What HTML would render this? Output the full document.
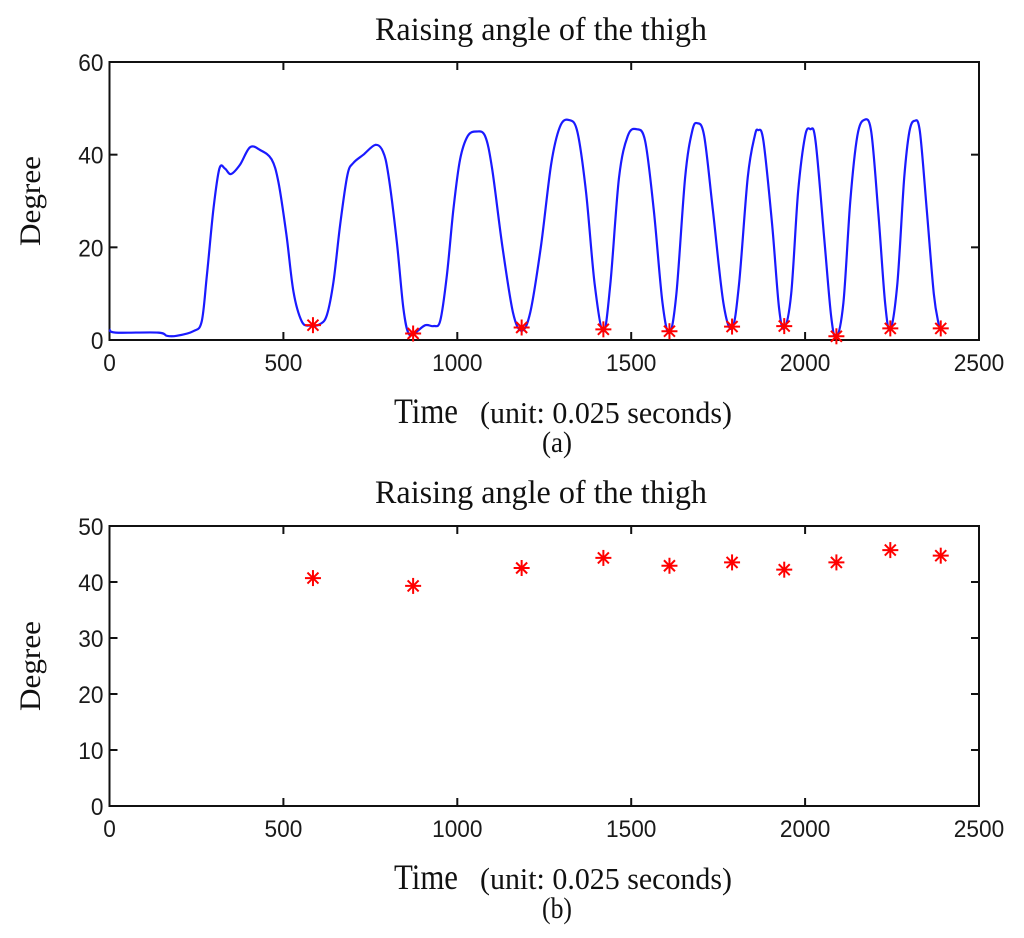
<!DOCTYPE html>
<html><head><meta charset="utf-8"><style>
html,body{margin:0;padding:0;background:#fff;}
svg{display:block;}
.tick{font-family:"Liberation Sans",Arial,sans-serif;font-size:24px;fill:#1a1a1a;}
.serif{font-family:"Liberation Serif",serif;fill:#111;}
</style></head><body>
<svg id="c" width="1024" height="938" viewBox="0 0 1024 938" xmlns="http://www.w3.org/2000/svg"></svg>
<script>
// Panel (a) curve data
const curveT = [0,18,140,165,193,241,265,280,299,316,332,349,375,404,433,466,486,509,529,553,577,605,625,644,663,684,701,730,764,786,802,826,845,860,879,908,932,951,970,989,1008,1030,1055,1080,1100,1130,1160,1185,1210,1240,1270,1295,1320,1345,1370,1395,1420,1440,1465,1490,1515,1540,1565,1590,1610,1630,1655,1675,1690,1710,1735,1765,1790,1810,1835,1855,1865,1880,1905,1925,1940,1960,1980,2000,2015,2030,2055,2075,2090,2110,2130,2150,2170,2190,2210,2230,2245,2265,2285,2300,2315,2330,2350,2370,2385];
const curveV = [2.3,1.6,1.6,0.9,0.9,1.9,4,14,28.4,37,37,35.8,37.8,41.6,41,39,34,22.6,10.4,4,3.1,3.4,5.4,12.6,24.8,35.6,38.2,40,42.1,40.7,35.6,21.2,6.8,1.4,1.6,3.2,3,4.2,14,28.4,39,44,45,44,37,20,6,2,6,20,38,46,47.5,45,32,12,1.8,12,35,44,45.5,43,28,8,1.5,10,35,45,46.8,44,28,8,2.5,12,35,44,45.3,43,25,7,2.5,10,32,44,45.5,43,22,5,0.5,8,30,44,47.5,45,28,8,2.2,12,35,45,47.3,45,28,10,3];
// Valley markers (a)
const minT = [585,873,1185,1420,1610,1790,1940,2090,2245,2390];
const minV = [3.2,1.4,2.7,2.3,1.9,2.9,3.0,0.8,2.5,2.5];
// Panel (b) peak values
const peakT = [585,873,1185,1420,1610,1790,1940,2090,2245,2390];
const peakV = [40.7,39.3,42.5,44.3,42.9,43.5,42.2,43.5,45.7,44.7];
const xTicks = [0,500,1000,1500,2000,2500];
const yTicksA = [0,20,40,60];
const yTicksB = [0,10,20,30,40,50];

const NS="http://www.w3.org/2000/svg";
const svg=document.getElementById('c');
function mk(tag,attrs,parent){const e=document.createElementNS(NS,tag);for(const k in attrs)e.setAttribute(k,attrs[k]);(parent||svg).appendChild(e);return e;}
const L=109.5,R=979;
function xs(t){return L+(t/2500)*(R-L);}

function panel(top,bot,ymax,yTicks,name,titleY,xlabY,capY,cap){
  const g=mk('g',{});
  
  
  const ys=v=>bot-(v/ymax)*(bot-top);
  const fr=mk('rect',{x:L,y:top,width:R-L,height:bot-top,fill:'none',stroke:'#111','stroke-width':2},g);
  
  
  xTicks.forEach(t=>{
    const x=xs(t);
    mk('line',{x1:x,y1:bot,x2:x,y2:bot-8,stroke:'#111','stroke-width':2},g);
    mk('line',{x1:x,y1:top,x2:x,y2:top+8,stroke:'#111','stroke-width':2},g);
    const s=String(t);
    const tx=mk('text',{x:x,y:bot+31,'text-anchor':'middle',class:'tick',textLength:s.length*12.6,lengthAdjust:'spacingAndGlyphs'},g);
    tx.textContent=s;
    
    
  });
  yTicks.forEach(v=>{
    const y=ys(v);
    mk('line',{x1:L,y1:y,x2:L+8,y2:y,stroke:'#111','stroke-width':2},g);
    mk('line',{x1:R,y1:y,x2:R-8,y2:y,stroke:'#111','stroke-width':2},g);
    const s=String(v);
    const tx=mk('text',{x:L-6,y:y+9,'text-anchor':'end',class:'tick',textLength:s.length*12.6,lengthAdjust:'spacingAndGlyphs'},g);
    tx.textContent=s;
    
    
  });
  const ti=mk('text',{x:375,y:titleY,class:'serif','font-size':33,textLength:332,lengthAdjust:'spacingAndGlyphs'},g);
  ti.textContent='Raising angle of the thigh';
  
  
  const yl=mk('text',{x:0,y:0,'text-anchor':'middle',class:'serif','font-size':30,textLength:90,lengthAdjust:'spacingAndGlyphs',transform:`translate(40,${(top+bot)/2}) rotate(-90)`},g);
  yl.textContent='Degree';
  
  
  const xl1=mk('text',{x:394,y:xlabY,class:'serif','font-size':36,textLength:64,lengthAdjust:'spacingAndGlyphs'},g);
  xl1.textContent='Time';
  
  
  const xl2=mk('text',{x:480,y:xlabY,class:'serif','font-size':31,textLength:252,lengthAdjust:'spacingAndGlyphs'},g);
  xl2.textContent='(unit: 0.025 seconds)';
  
  
  const cp=mk('text',{x:557,y:capY,'text-anchor':'middle',class:'serif','font-size':30,textLength:30,lengthAdjust:'spacingAndGlyphs'},g);
  cp.textContent=cap;
  
  
  return {g,ys};
}
function star(g,x,y){
  const s=mk('g',{stroke:'#ff0000','stroke-width':2},g);
  
  
  const r=8;
  mk('line',{x1:x-r,y1:y,x2:x+r,y2:y},s);
  mk('line',{x1:x,y1:y-r,x2:x,y2:y+r},s);
  mk('line',{x1:x-5.5,y1:y-5.5,x2:x+5.5,y2:y+5.5},s);
  mk('line',{x1:x-5.5,y1:y+5.5,x2:x+5.5,y2:y-5.5},s);
}

const A=panel(62,340,60,yTicksA,'panel-a',40,423,452,'(a)');
const P=curveT.map((t,i)=>[xs(t),A.ys(curveV[i])]);
let d='M'+P[0][0].toFixed(1)+','+P[0][1].toFixed(1);
for(let i=0;i<P.length-1;i++){
  const p0=P[Math.max(0,i-1)],p1=P[i],p2=P[i+1],p3=P[Math.min(P.length-1,i+2)];
  const c1=[p1[0]+(p2[0]-p0[0])/6,p1[1]+(p2[1]-p0[1])/6];
  const c2=[p2[0]-(p3[0]-p1[0])/6,p2[1]-(p3[1]-p1[1])/6];
  d+=` C${c1[0].toFixed(1)},${c1[1].toFixed(1)} ${c2[0].toFixed(1)},${c2[1].toFixed(1)} ${p2[0].toFixed(1)},${p2[1].toFixed(1)}`;
}
const pl=mk('path',{d:d,fill:'none',stroke:'#1a1aff','stroke-width':2.2,'stroke-linejoin':'round'},A.g);


minT.forEach((t,i)=>star(A.g,xs(t),A.ys(minV[i])));

const B=panel(526,806,50,yTicksB,'panel-b',503,889,918,'(b)');
peakT.forEach((t,i)=>star(B.g,xs(t),B.ys(peakV[i])));
</script>
</body></html>
